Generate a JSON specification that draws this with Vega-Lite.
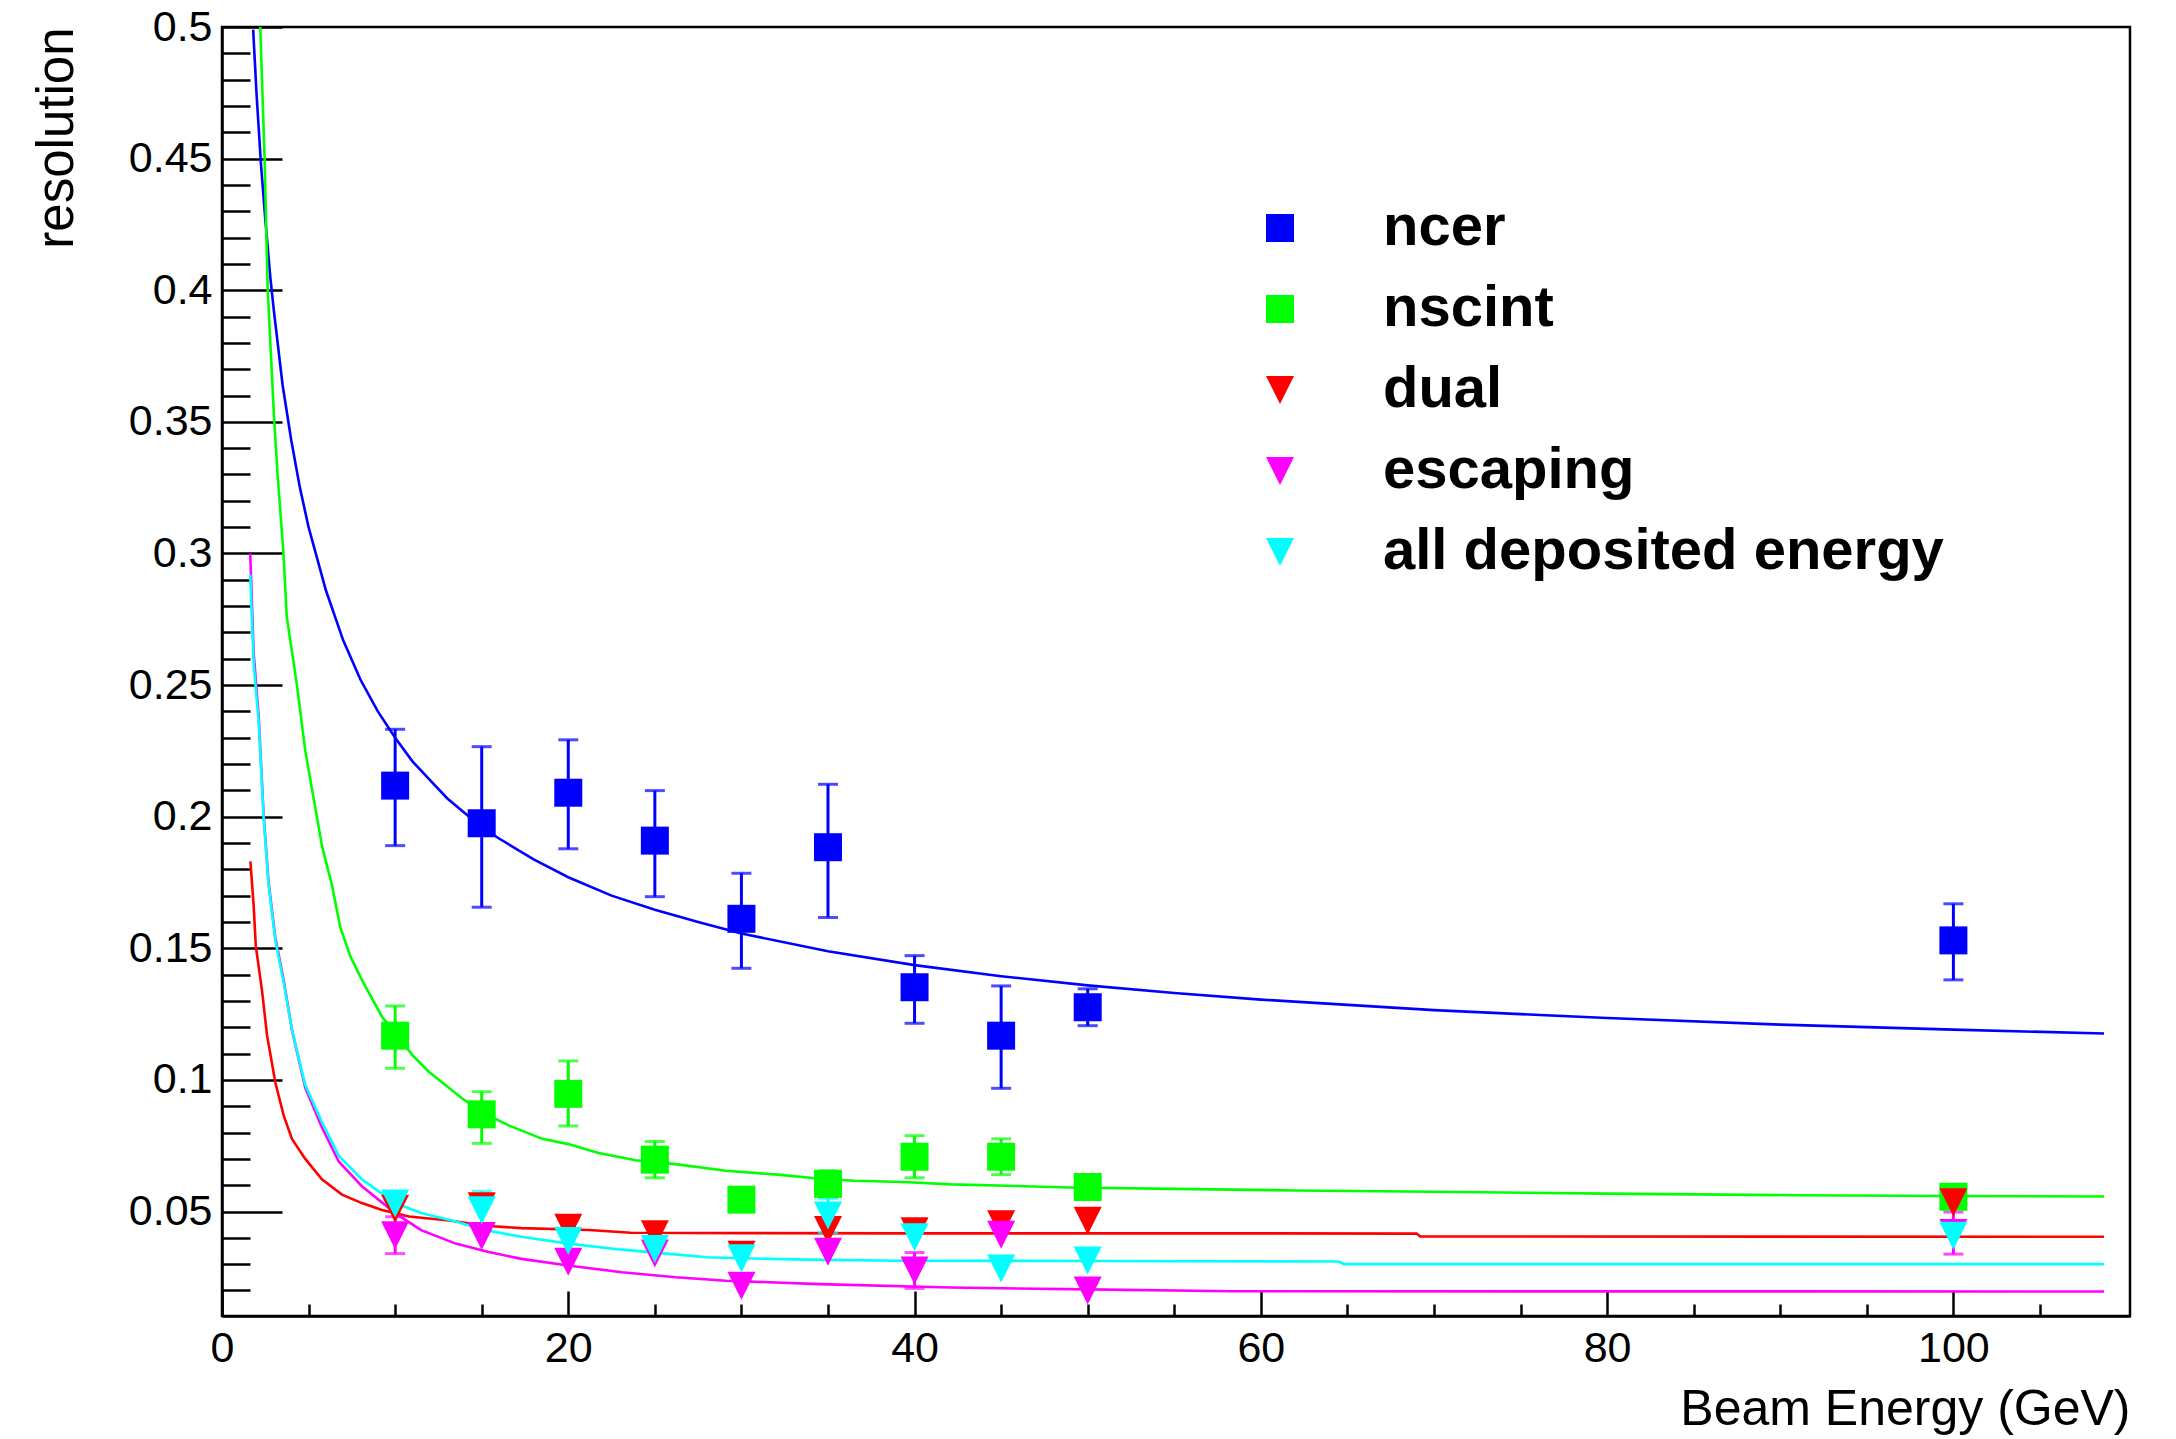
{
  "$schema": "https://vega.github.io/schema/vega-lite/v6.json",
  "width": 1908,
  "height": 1289,
  "autosize": {"type": "none"},
  "padding": {"left": 222, "top": 27, "right": 46, "bottom": 123},
  "background": "white",
  "config": {
    "font": "Liberation Sans",
    "view": {"stroke": "black", "strokeWidth": 2.5},
    "axis": {"labelFont": "Liberation Sans", "titleFont": "Liberation Sans", "labelColor": "black", "titleColor": "black", "tickColor": "black", "domainColor": "black", "grid": false, "titleFontWeight": "normal"},
    "legend": {"labelFont": "Liberation Sans", "labelFontWeight": "bold", "labelFontSize": 58, "labelColor": "black", "symbolSize": 784, "rowPadding": 23, "labelOffset": 74, "padding": 0, "labelLimit": 1000, "symbolStrokeWidth": 0, "symbolOpacity": 1}
  },
  "datasets": {
    "curves": [
      {"series": "ncer", "E": 1.8, "res": 0.499}, {"series": "ncer", "E": 2.0, "res": 0.474}, {"series": "ncer", "E": 2.25, "res": 0.448}, {"series": "ncer", "E": 2.5, "res": 0.427}, {"series": "ncer", "E": 2.79, "res": 0.405}, {"series": "ncer", "E": 3.0, "res": 0.392}, {"series": "ncer", "E": 3.5, "res": 0.364}, {"series": "ncer", "E": 4.0, "res": 0.343}, {"series": "ncer", "E": 4.5, "res": 0.325}, {"series": "ncer", "E": 5.0, "res": 0.31}, {"series": "ncer", "E": 6.0, "res": 0.286}, {"series": "ncer", "E": 7.0, "res": 0.267}, {"series": "ncer", "E": 8.0, "res": 0.252}, {"series": "ncer", "E": 9.0, "res": 0.24}, {"series": "ncer", "E": 10, "res": 0.23}, {"series": "ncer", "E": 11, "res": 0.221}, {"series": "ncer", "E": 12, "res": 0.214}, {"series": "ncer", "E": 13, "res": 0.207}, {"series": "ncer", "E": 14, "res": 0.2015}, {"series": "ncer", "E": 15, "res": 0.196}, {"series": "ncer", "E": 16, "res": 0.1917}, {"series": "ncer", "E": 18, "res": 0.1838}, {"series": "ncer", "E": 20, "res": 0.177}, {"series": "ncer", "E": 22.5, "res": 0.17}, {"series": "ncer", "E": 25, "res": 0.1646}, {"series": "ncer", "E": 27.5, "res": 0.16}, {"series": "ncer", "E": 30, "res": 0.1556}, {"series": "ncer", "E": 35, "res": 0.1489}, {"series": "ncer", "E": 40, "res": 0.1436}, {"series": "ncer", "E": 45, "res": 0.1394}, {"series": "ncer", "E": 50, "res": 0.1359}, {"series": "ncer", "E": 55, "res": 0.133}, {"series": "ncer", "E": 60, "res": 0.1305}, {"series": "ncer", "E": 70, "res": 0.1265}, {"series": "ncer", "E": 80, "res": 0.1235}, {"series": "ncer", "E": 90, "res": 0.121}, {"series": "ncer", "E": 100, "res": 0.1191}, {"series": "ncer", "E": 108.7, "res": 0.1176},
      {"series": "nscint", "E": 2.21, "res": 0.5}, {"series": "nscint", "E": 2.46, "res": 0.45}, {"series": "nscint", "E": 2.64, "res": 0.4}, {"series": "nscint", "E": 3.02, "res": 0.35}, {"series": "nscint", "E": 3.21, "res": 0.33}, {"series": "nscint", "E": 3.55, "res": 0.3}, {"series": "nscint", "E": 3.74, "res": 0.276}, {"series": "nscint", "E": 4.33, "res": 0.25}, {"series": "nscint", "E": 4.81, "res": 0.225}, {"series": "nscint", "E": 5.48, "res": 0.2}, {"series": "nscint", "E": 5.77, "res": 0.189}, {"series": "nscint", "E": 6.35, "res": 0.174}, {"series": "nscint", "E": 6.83, "res": 0.158}, {"series": "nscint", "E": 7.41, "res": 0.147}, {"series": "nscint", "E": 8.08, "res": 0.138}, {"series": "nscint", "E": 9.24, "res": 0.124}, {"series": "nscint", "E": 10.0, "res": 0.118}, {"series": "nscint", "E": 10.97, "res": 0.1096}, {"series": "nscint", "E": 11.93, "res": 0.1032}, {"series": "nscint", "E": 13.86, "res": 0.093}, {"series": "nscint", "E": 15, "res": 0.0878}, {"series": "nscint", "E": 16.55, "res": 0.0827}, {"series": "nscint", "E": 18.5, "res": 0.0776}, {"series": "nscint", "E": 20, "res": 0.0756}, {"series": "nscint", "E": 21.75, "res": 0.0722}, {"series": "nscint", "E": 23.9, "res": 0.0695}, {"series": "nscint", "E": 26.2, "res": 0.068}, {"series": "nscint", "E": 29.1, "res": 0.0655}, {"series": "nscint", "E": 32.1, "res": 0.064}, {"series": "nscint", "E": 34.1, "res": 0.0627}, {"series": "nscint", "E": 36.5, "res": 0.0617}, {"series": "nscint", "E": 39.4, "res": 0.0612}, {"series": "nscint", "E": 42.1, "res": 0.0603}, {"series": "nscint", "E": 45.4, "res": 0.0598}, {"series": "nscint", "E": 48.9, "res": 0.0591}, {"series": "nscint", "E": 55, "res": 0.0586}, {"series": "nscint", "E": 62, "res": 0.058}, {"series": "nscint", "E": 70, "res": 0.0575}, {"series": "nscint", "E": 80, "res": 0.0568}, {"series": "nscint", "E": 90.7, "res": 0.0562}, {"series": "nscint", "E": 100, "res": 0.0559}, {"series": "nscint", "E": 108.7, "res": 0.0557},
      {"series": "dual", "E": 1.64, "res": 0.183}, {"series": "dual", "E": 1.83, "res": 0.166}, {"series": "dual", "E": 1.95, "res": 0.151}, {"series": "dual", "E": 2.31, "res": 0.134}, {"series": "dual", "E": 2.6, "res": 0.117}, {"series": "dual", "E": 3.08, "res": 0.099}, {"series": "dual", "E": 3.56, "res": 0.0865}, {"series": "dual", "E": 4.04, "res": 0.0776}, {"series": "dual", "E": 4.81, "res": 0.07}, {"series": "dual", "E": 5.77, "res": 0.0622}, {"series": "dual", "E": 6.93, "res": 0.0564}, {"series": "dual", "E": 8.08, "res": 0.0532}, {"series": "dual", "E": 9.24, "res": 0.0506}, {"series": "dual", "E": 10.8, "res": 0.0481}, {"series": "dual", "E": 13.1, "res": 0.0466}, {"series": "dual", "E": 15.4, "res": 0.0445}, {"series": "dual", "E": 17.3, "res": 0.0437}, {"series": "dual", "E": 21.2, "res": 0.043}, {"series": "dual", "E": 23.6, "res": 0.0419}, {"series": "dual", "E": 30, "res": 0.0418}, {"series": "dual", "E": 40, "res": 0.0417}, {"series": "dual", "E": 50, "res": 0.0417}, {"series": "dual", "E": 60, "res": 0.0417}, {"series": "dual", "E": 69, "res": 0.0416}, {"series": "dual", "E": 69.2, "res": 0.0405}, {"series": "dual", "E": 108.7, "res": 0.0404},
      {"series": "escaping", "E": 1.63, "res": 0.3}, {"series": "escaping", "E": 1.83, "res": 0.262}, {"series": "escaping", "E": 2.12, "res": 0.238}, {"series": "escaping", "E": 2.4, "res": 0.201}, {"series": "escaping", "E": 2.69, "res": 0.175}, {"series": "escaping", "E": 3.08, "res": 0.154}, {"series": "escaping", "E": 3.56, "res": 0.138}, {"series": "escaping", "E": 4.04, "res": 0.119}, {"series": "escaping", "E": 4.81, "res": 0.097}, {"series": "escaping", "E": 5.77, "res": 0.082}, {"series": "escaping", "E": 6.74, "res": 0.069}, {"series": "escaping", "E": 8.08, "res": 0.0596}, {"series": "escaping", "E": 10, "res": 0.0494}, {"series": "escaping", "E": 11.5, "res": 0.0429}, {"series": "escaping", "E": 13.5, "res": 0.0378}, {"series": "escaping", "E": 15.4, "res": 0.0346}, {"series": "escaping", "E": 17.3, "res": 0.032}, {"series": "escaping", "E": 20, "res": 0.0295}, {"series": "escaping", "E": 23.1, "res": 0.0269}, {"series": "escaping", "E": 26.2, "res": 0.025}, {"series": "escaping", "E": 29.1, "res": 0.0237}, {"series": "escaping", "E": 34.5, "res": 0.0224}, {"series": "escaping", "E": 42.1, "res": 0.0211}, {"series": "escaping", "E": 50, "res": 0.0204}, {"series": "escaping", "E": 58.3, "res": 0.0197}, {"series": "escaping", "E": 108.7, "res": 0.0196},
      {"series": "all deposited energy", "E": 1.63, "res": 0.292}, {"series": "all deposited energy", "E": 1.83, "res": 0.258}, {"series": "all deposited energy", "E": 2.12, "res": 0.236}, {"series": "all deposited energy", "E": 2.4, "res": 0.2}, {"series": "all deposited energy", "E": 2.69, "res": 0.174}, {"series": "all deposited energy", "E": 3.08, "res": 0.153}, {"series": "all deposited energy", "E": 3.56, "res": 0.137}, {"series": "all deposited energy", "E": 4.04, "res": 0.119}, {"series": "all deposited energy", "E": 4.81, "res": 0.098}, {"series": "all deposited energy", "E": 5.77, "res": 0.084}, {"series": "all deposited energy", "E": 6.74, "res": 0.0712}, {"series": "all deposited energy", "E": 8.08, "res": 0.0622}, {"series": "all deposited energy", "E": 10, "res": 0.0532}, {"series": "all deposited energy", "E": 11.5, "res": 0.0494}, {"series": "all deposited energy", "E": 13.5, "res": 0.0462}, {"series": "all deposited energy", "E": 15.2, "res": 0.0429}, {"series": "all deposited energy", "E": 17.3, "res": 0.0404}, {"series": "all deposited energy", "E": 20, "res": 0.0378}, {"series": "all deposited energy", "E": 23.1, "res": 0.0355}, {"series": "all deposited energy", "E": 26, "res": 0.0338}, {"series": "all deposited energy", "E": 28, "res": 0.0326}, {"series": "all deposited energy", "E": 33, "res": 0.0318}, {"series": "all deposited energy", "E": 38.9, "res": 0.0313}, {"series": "all deposited energy", "E": 50, "res": 0.0312}, {"series": "all deposited energy", "E": 64.5, "res": 0.031}, {"series": "all deposited energy", "E": 64.8, "res": 0.03}, {"series": "all deposited energy", "E": 108.7, "res": 0.03}
    ],
    "pts": [
      {"series": "ncer", "E": 10, "res": 0.2118, "lo": 0.189, "hi": 0.2332},
      {"series": "ncer", "E": 15, "res": 0.1975, "lo": 0.1656, "hi": 0.2266},
      {"series": "ncer", "E": 20, "res": 0.2091, "lo": 0.1878, "hi": 0.2292},
      {"series": "ncer", "E": 25, "res": 0.1909, "lo": 0.1696, "hi": 0.2099},
      {"series": "ncer", "E": 30, "res": 0.1612, "lo": 0.1424, "hi": 0.1785},
      {"series": "ncer", "E": 35, "res": 0.1884, "lo": 0.1617, "hi": 0.2123},
      {"series": "ncer", "E": 40, "res": 0.1352, "lo": 0.1215, "hi": 0.1472},
      {"series": "ncer", "E": 45, "res": 0.1168, "lo": 0.0968, "hi": 0.1357},
      {"series": "ncer", "E": 50, "res": 0.1276, "lo": 0.1206, "hi": 0.1346},
      {"series": "ncer", "E": 100, "res": 0.153, "lo": 0.138, "hi": 0.1669},
      {"series": "nscint", "E": 10, "res": 0.1168, "lo": 0.1044, "hi": 0.1281},
      {"series": "nscint", "E": 15, "res": 0.0869, "lo": 0.0759, "hi": 0.0955},
      {"series": "nscint", "E": 20, "res": 0.0947, "lo": 0.0825, "hi": 0.1072},
      {"series": "nscint", "E": 25, "res": 0.0697, "lo": 0.0628, "hi": 0.0766},
      {"series": "nscint", "E": 30, "res": 0.0545},
      {"series": "nscint", "E": 35, "res": 0.0605, "lo": 0.0555, "hi": 0.0655},
      {"series": "nscint", "E": 40, "res": 0.0708, "lo": 0.0628, "hi": 0.0788},
      {"series": "nscint", "E": 45, "res": 0.0708, "lo": 0.064, "hi": 0.0776},
      {"series": "nscint", "E": 50, "res": 0.0593},
      {"series": "nscint", "E": 100, "res": 0.0556},
      {"series": "dual", "E": 10, "res": 0.051},
      {"series": "dual", "E": 15, "res": 0.052},
      {"series": "dual", "E": 20, "res": 0.0438},
      {"series": "dual", "E": 25, "res": 0.0414},
      {"series": "dual", "E": 30, "res": 0.0336},
      {"series": "dual", "E": 35, "res": 0.043},
      {"series": "dual", "E": 40, "res": 0.0425},
      {"series": "dual", "E": 45, "res": 0.0452},
      {"series": "dual", "E": 50, "res": 0.0465},
      {"series": "dual", "E": 100, "res": 0.0535},
      {"series": "escaping", "E": 10, "res": 0.041, "lo": 0.034, "hi": 0.048},
      {"series": "escaping", "E": 15, "res": 0.0407},
      {"series": "escaping", "E": 20, "res": 0.0309},
      {"series": "escaping", "E": 25, "res": 0.034},
      {"series": "escaping", "E": 30, "res": 0.0218},
      {"series": "escaping", "E": 35, "res": 0.0347},
      {"series": "escaping", "E": 40, "res": 0.0276, "lo": 0.0208, "hi": 0.0344},
      {"series": "escaping", "E": 45, "res": 0.0412},
      {"series": "escaping", "E": 50, "res": 0.02},
      {"series": "escaping", "E": 100, "res": 0.0418, "lo": 0.0338, "hi": 0.0498},
      {"series": "all deposited energy", "E": 10, "res": 0.053},
      {"series": "all deposited energy", "E": 15, "res": 0.0505, "lo": 0.0433, "hi": 0.0577},
      {"series": "all deposited energy", "E": 20, "res": 0.0388},
      {"series": "all deposited energy", "E": 25, "res": 0.0358},
      {"series": "all deposited energy", "E": 30, "res": 0.0322},
      {"series": "all deposited energy", "E": 35, "res": 0.0485, "lo": 0.042, "hi": 0.055},
      {"series": "all deposited energy", "E": 40, "res": 0.0402},
      {"series": "all deposited energy", "E": 45, "res": 0.0283},
      {"series": "all deposited energy", "E": 50, "res": 0.0314},
      {"series": "all deposited energy", "E": 100, "res": 0.0408}
    ]
  },
  "resolve": {"axis": {"x": "independent", "y": "independent"}, "legend": {"color": "independent", "shape": "independent"}},
  "layer": [
    {
      "data": {"name": "curves"},
      "mark": {"type": "line", "clip": true, "strokeWidth": 2.6},
      "encoding": {
        "x": {"field": "E", "type": "quantitative", "scale": {"domain": [0, 110.2], "nice": false, "zero": false},
          "axis": {"orient": "bottom", "values": [0, 20, 40, 60, 80, 100], "format": "d", "tickSize": -25, "tickWidth": 2.5, "domainWidth": 2.5, "labelFontSize": 43, "labelPadding": 36, "labelFlush": false, "labelOverlap": false, "title": "Beam Energy (GeV)", "titleFontSize": 50, "titleAnchor": "end", "titlePadding": 14}},
        "y": {"field": "res", "type": "quantitative", "scale": {"domain": [0.0103, 0.5], "nice": false, "zero": false},
          "axis": {"orient": "left", "values": [0.05, 0.1, 0.15, 0.2, 0.25, 0.3, 0.35, 0.4, 0.45, 0.5], "format": "~g", "tickSize": -60, "tickWidth": 2.5, "domainWidth": 2.5, "labelFontSize": 43, "labelPadding": 70, "labelFlush": false, "labelOverlap": false, "title": "resolution", "titleFontSize": 51, "titleAnchor": "end", "titlePadding": 45}},
        "color": {"field": "series", "type": "nominal", "scale": {"domain": ["ncer", "nscint", "dual", "escaping", "all deposited energy"], "range": ["#0000ff", "#00ff00", "#ff0000", "#ff00ff", "#00ffff"]}, "legend": null}
      }
    },
    {
      "data": {"name": "pts"},
      "transform": [{"filter": "datum.lo != null"}],
      "mark": {"type": "rule", "strokeWidth": 3},
      "encoding": {
        "x": {"field": "E", "type": "quantitative",
          "axis": {"orient": "bottom", "values": [5, 10, 15, 25, 30, 35, 45, 50, 55, 65, 70, 75, 85, 90, 95, 105], "tickSize": -12, "tickWidth": 2.5, "labels": false, "domain": false, "title": null}},
        "y": {"field": "lo", "type": "quantitative",
          "axis": {"orient": "left", "values": [0.02, 0.03, 0.04, 0.06, 0.07, 0.08, 0.09, 0.11, 0.12, 0.13, 0.14, 0.16, 0.17, 0.18, 0.19, 0.21, 0.22, 0.23, 0.24, 0.26, 0.27, 0.28, 0.29, 0.31, 0.32, 0.33, 0.34, 0.36, 0.37, 0.38, 0.39, 0.41, 0.42, 0.43, 0.44, 0.46, 0.47, 0.48, 0.49], "tickSize": -28, "tickWidth": 2.5, "labels": false, "domain": false, "title": null}},
        "y2": {"field": "hi"},
        "color": {"field": "series", "type": "nominal", "legend": null}
      }
    },
    {
      "data": {"name": "pts"},
      "transform": [{"filter": "datum.lo != null"}],
      "mark": {"type": "tick", "orient": "horizontal", "size": 20, "thickness": 3},
      "encoding": {
        "x": {"field": "E", "type": "quantitative", "axis": null},
        "y": {"field": "lo", "type": "quantitative", "axis": null},
        "color": {"field": "series", "type": "nominal", "legend": null}
      }
    },
    {
      "data": {"name": "pts"},
      "transform": [{"filter": "datum.lo != null"}],
      "mark": {"type": "tick", "orient": "horizontal", "size": 20, "thickness": 3},
      "encoding": {
        "x": {"field": "E", "type": "quantitative", "axis": null},
        "y": {"field": "hi", "type": "quantitative", "axis": null},
        "color": {"field": "series", "type": "nominal", "legend": null}
      }
    },
    {
      "data": {"name": "pts"},
      "mark": {"type": "point", "filled": true, "size": 784, "opacity": 1, "strokeWidth": 0},
      "encoding": {
        "x": {"field": "E", "type": "quantitative", "axis": null},
        "y": {"field": "res", "type": "quantitative", "axis": null},
        "color": {"field": "series", "type": "nominal", "sort": null,
          "legend": {"title": null, "orient": "none", "legendX": 1029, "legendY": 172}},
        "shape": {"field": "series", "type": "nominal", "sort": null,
          "scale": {"domain": ["ncer", "nscint", "dual", "escaping", "all deposited energy"], "range": ["square", "square", "M-1,-1L1,-1L0,1Z", "M-1,-1L1,-1L0,1Z", "M-1,-1L1,-1L0,1Z"]},
          "legend": {"title": null, "orient": "none", "legendX": 1029, "legendY": 172}}
      }
    }
  ]
}
